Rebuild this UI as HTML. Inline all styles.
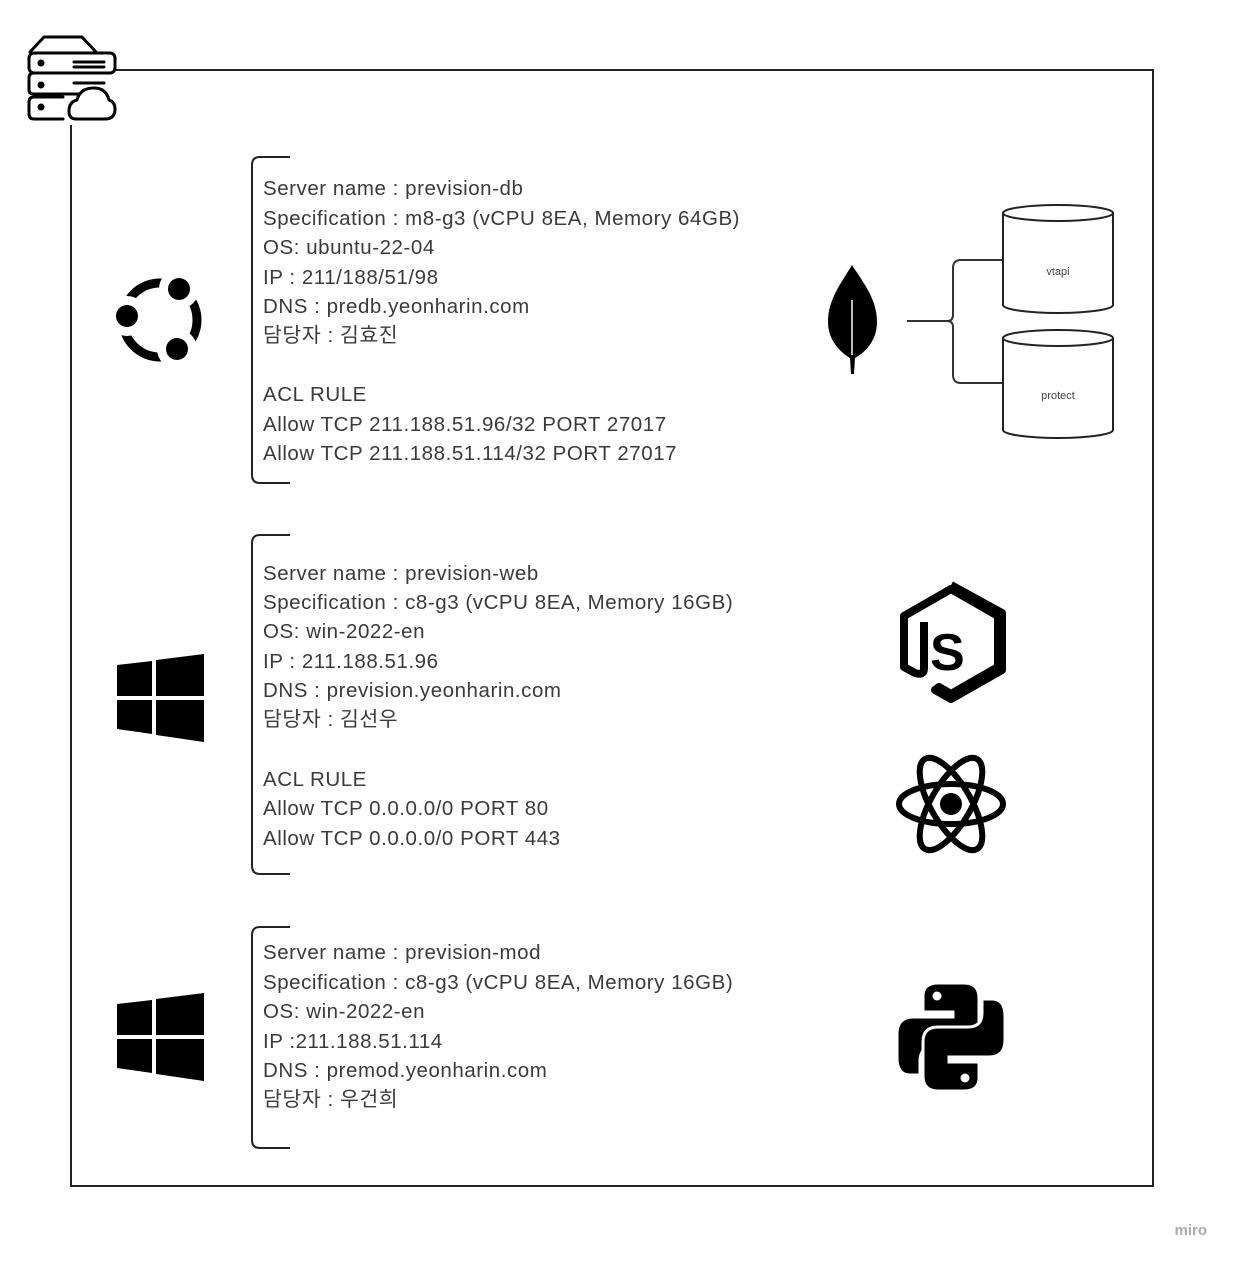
<!DOCTYPE html>
<html><head><meta charset="utf-8"><style>
html,body{margin:0;padding:0;background:#fff;}
svg{display:block}
.t{font-family:"Liberation Sans","Noto Sans CJK KR",sans-serif;font-size:20.5px;letter-spacing:0.55px;fill:#3a3a3a;}
</style></head><body>
<svg width="1235" height="1264" viewBox="0 0 1235 1264" xmlns="http://www.w3.org/2000/svg">
<g fill="none" stroke="#222" stroke-width="2">
<path d="M115,70 H1153 V1186 H71 V125"/>
</g>
<g fill="none" stroke="#000" stroke-width="3" stroke-linecap="round" stroke-linejoin="round">
<path d="M30,52 L44,37 H82 L96,52"/>
<rect x="29" y="53" width="86" height="20" rx="5"/>
<path d="M74,73 H34 q-5,0 -5,5 v12 q0,4 5,4 H93"/>
<path d="M63,97 H34 q-5,0 -5,5 v12 q0,5 5,5 h29"/>
<path d="M69,111 q0,-9 8,-11 q3,-12 17,-12 q12,0 15,12 q6,2 6,9 q0,10 -10,10 H76 q-7,0 -7,-8z" fill="#fff"/>
<line x1="74" y1="62" x2="104" y2="62"/><line x1="74" y1="67" x2="104" y2="67"/>
<line x1="74" y1="83" x2="104" y2="83"/>
</g>
<g fill="#000"><circle cx="41" cy="63" r="3.5"/><circle cx="41" cy="85" r="3.5"/><circle cx="41" cy="107" r="3.5"/></g>
<g fill="none" stroke="#222" stroke-width="2">
<path d="M290,157 H260 q-8,0 -8,8 V475 q0,8 8,8 H290"/>
<path d="M290,535 H260 q-8,0 -8,8 V866 q0,8 8,8 H290"/>
<path d="M290,927 H260 q-8,0 -8,8 V1140 q0,8 8,8 H290"/>
</g>
<g class="t">
<text x="263" y="195">Server name : prevision-db</text>
<text x="263" y="225">Specification : m8-g3 (vCPU 8EA, Memory 64GB)</text>
<text x="263" y="254">OS: ubuntu-22-04</text>
<text x="263" y="284">IP : 211/188/51/98</text>
<text x="263" y="313">DNS : predb.yeonharin.com</text>
<text x="263" y="342">담당자 : 김효진</text>
<text x="263" y="401">ACL RULE</text>
<text x="263" y="431">Allow TCP 211.188.51.96/32 PORT 27017</text>
<text x="263" y="460">Allow TCP 211.188.51.114/32 PORT 27017</text>
</g>
<g class="t">
<text x="263" y="580">Server name : prevision-web</text>
<text x="263" y="609">Specification : c8-g3 (vCPU 8EA, Memory 16GB)</text>
<text x="263" y="638">OS: win-2022-en</text>
<text x="263" y="668">IP : 211.188.51.96</text>
<text x="263" y="697">DNS : prevision.yeonharin.com</text>
<text x="263" y="726">담당자 : 김선우</text>
<text x="263" y="786">ACL RULE</text>
<text x="263" y="815">Allow TCP 0.0.0.0/0 PORT 80</text>
<text x="263" y="845">Allow TCP 0.0.0.0/0 PORT 443</text>
</g>
<g class="t">
<text x="263" y="959">Server name : prevision-mod</text>
<text x="263" y="989">Specification : c8-g3 (vCPU 8EA, Memory 16GB)</text>
<text x="263" y="1018">OS: win-2022-en</text>
<text x="263" y="1048">IP :211.188.51.114</text>
<text x="263" y="1077">DNS : premod.yeonharin.com</text>
<text x="263" y="1106">담당자 : 우건희</text>
</g>
<g>
<circle cx="160" cy="320" r="37" fill="none" stroke="#000" stroke-width="9"/>
<g stroke="#fff" stroke-width="18"><circle cx="179" cy="289" r="11" fill="#000"/><circle cx="127" cy="316" r="11" fill="#000"/><circle cx="177" cy="349" r="11" fill="#000"/></g>
<circle cx="179" cy="289" r="11" fill="#000"/><circle cx="127" cy="316" r="11" fill="#000"/><circle cx="177" cy="349" r="11" fill="#000"/>
</g>
<g fill="#000">
<polygon points="117,665 152,661 152,696 117,696"/>
<polygon points="156,660 204,654 204,696 156,696"/>
<polygon points="117,700 152,700 152,734 117,729"/>
<polygon points="156,700 204,700 204,742 156,735"/>
<polygon points="117,1004 152,1000 152,1035 117,1035"/>
<polygon points="156,999 204,993 204,1035 156,1035"/>
<polygon points="117,1039 152,1039 152,1073 117,1068"/>
<polygon points="156,1039 204,1039 204,1081 156,1074"/>
</g>
<path d="M852,265 C840,285 828,300 828,322 C828,340 840,352 850,358 L851,374 L854,374 L855,358 C866,352 877,340 877,322 C877,300 865,285 852,265Z" fill="#000"/>
<line x1="852" y1="300" x2="852" y2="355" stroke="#fff" stroke-width="1.5"/>
<g fill="none" stroke="#333" stroke-width="2">
<path d="M907,321 H947 q6,0 6,-6 V268 q0,-8 8,-8 H1003"/>
<path d="M947,321 q6,0 6,6 V375 q0,8 8,8 H1003"/>
</g>
<g fill="#fff" stroke="#222" stroke-width="2">
<path d="M1003,213 V305 A55,8 0 0 0 1113,305 V213"/>
<ellipse cx="1058" cy="213" rx="55" ry="8"/>
<path d="M1003,338 V430 A55,8 0 0 0 1113,430 V338"/>
<ellipse cx="1058" cy="338" rx="55" ry="8"/>
</g>
<g font-family="Liberation Sans,sans-serif" font-size="11" fill="#444" text-anchor="middle">
<text x="1058" y="275">vtapi</text><text x="1058" y="399">protect</text>
</g>
<path d="M951,585 L1002,613 V670 L951,699 L935,690 L939,687 L951,694 L998,667 V616 L951,589 L904,616 V667 L915,673 Q924,676 924,668 V622" fill="none" stroke="#000" stroke-width="8" stroke-linejoin="round"/>
<text x="930" y="670" font-family="Liberation Sans,sans-serif" font-weight="bold" font-size="52" fill="#000">S</text>
<g fill="none" stroke="#000" stroke-width="6">
<ellipse cx="951" cy="804" rx="52" ry="20"/>
<ellipse cx="951" cy="804" rx="52" ry="20" transform="rotate(60 951 804)"/>
<ellipse cx="951" cy="804" rx="52" ry="20" transform="rotate(-60 951 804)"/>
</g>
<circle cx="951" cy="804" r="11" fill="#000"/>
<g fill="#000" stroke="#fff" stroke-width="3">
<path id="py" d="M938,983 h26 q15,0 15,15 v34 q0,15 -15,15 h-30 q-14,0 -14,14 v14 h-10 q-13,0 -13,-17 v-24 q0,-17 16,-17 h40 v-5 h-30 v-16 q0,-13 15,-13z"/>
<use href="#py" transform="rotate(180 951 1037)"/>
</g>
<circle cx="937" cy="996" r="4.5" fill="#fff"/><circle cx="965" cy="1078" r="4.5" fill="#fff"/>
<text x="1207" y="1235" text-anchor="end" font-family="Liberation Sans,sans-serif" font-size="15" fill="#aaa" font-weight="bold">miro</text>
</svg>
</body></html>
